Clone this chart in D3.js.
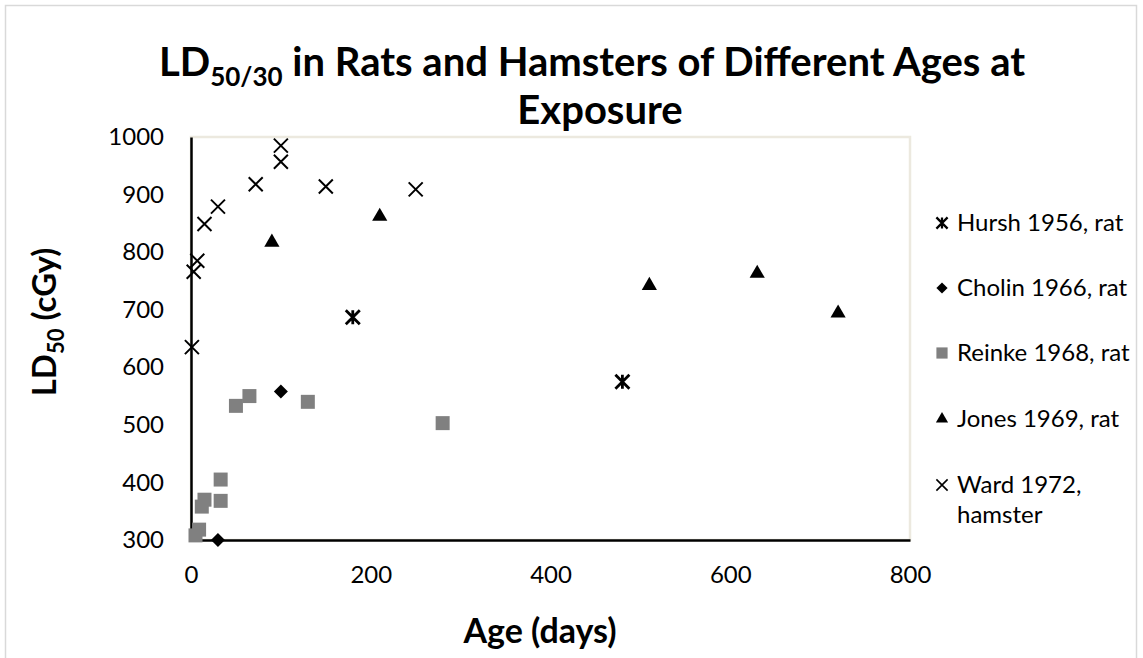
<!DOCTYPE html>
<html><head><meta charset="utf-8">
<script src="https://cdn.jsdelivr.net/npm/d3@7"></script>
<style>html,body{margin:0;padding:0;background:#fff;}svg{display:block;font-family:Lato,"Open Sans",sans-serif;}</style>
</head><body><svg id="c" width="1143" height="658"></svg>
<script>
// ---- data (age in days, LD50 in cGy) ----
const hurshAge = [180, 480];
const hurshLD = [687, 575];
const cholinAge = [100, 30];
const cholinLD = [558, 300];
const reinkeAge = [5, 9, 12, 15, 33, 33, 50, 65, 130, 280];
const reinkeLD = [308, 318, 358, 370, 368, 405, 533, 550, 540, 503];
const jonesAge = [90, 210, 510, 630, 720];
const jonesLD = [817, 862, 742, 763, 694];
const wardAge = [100, 100, 72, 150, 250, 30, 15, 7, 3, 1];
const wardLD = [985, 957, 918, 914, 909, 879, 849, 785, 766, 635];
const xTicks = [0, 200, 400, 600, 800];
const yTicks = [300, 400, 500, 600, 700, 800, 900, 1000];
const seriesNames = ["Hursh 1956, rat", "Cholin 1966, rat", "Reinke 1968, rat", "Jones 1969, rat", "Ward 1972,|hamster"];

const svg = d3.select("#c");
const x = d3.scaleLinear().domain([0, 800]).range([191, 910]);
const y = d3.scaleLinear().domain([300, 1000]).range([540, 137]);

// outer chart border
svg.append("rect").attr("x", 5.5).attr("y", 5.5).attr("width", 1131).attr("height", 660)
  .attr("fill", "#fff").attr("stroke", "#d9d9d9").attr("stroke-width", 1.5);

// plot area border (light)
svg.append("rect").attr("x", x(0)).attr("y", y(1000)).attr("width", x(800) - x(0)).attr("height", y(300) - y(1000))
  .attr("fill", "none").attr("stroke", "#ece9df").attr("stroke-width", 2.5);

// axes
const fmt = d3.format("d");
const xAxis = d3.axisBottom(x).tickValues(xTicks).tickFormat(fmt).tickSize(0).tickPadding(26);
const yAxis = d3.axisLeft(y).tickValues(yTicks).tickFormat(fmt).tickSize(0).tickPadding(27);
const gx = svg.append("g").attr("transform", `translate(0,${y(300)})`).call(xAxis);
const gy = svg.append("g").attr("transform", `translate(${x(0)},0)`).call(yAxis);
[gx, gy].forEach(g => {
  g.select(".domain").attr("stroke", "#000").attr("stroke-width", 2.5);
  g.selectAll("text").attr("font-family", "Lato").attr("font-size", 24).attr("fill", "#000");
});

// marker shapes
const S = 7;
const shapes = {
  asterisk: `M${-S},${-S}L${S},${S}M${-S},${S}L${S},${-S}M0,${-S}L0,${S}`,
  diamond: `M0,${-S}L${S},0L0,${S}L${-S},0Z`,
  square: d3.symbol(d3.symbolSquare, 196)(),
  triangle: d3.symbol(d3.symbolTriangle, 100)(),
  cross: `M${-S},${-S}L${S},${S}M${-S},${S}L${S},${-S}`
};
function drawMarker(g, kind) {
  const p = g.append("path").attr("d", shapes[kind]);
  if (kind === "asterisk") p.attr("fill", "none").attr("stroke", "#000").attr("stroke-width", 2.8);
  else if (kind === "cross") p.attr("fill", "none").attr("stroke", "#000").attr("stroke-width", 2);
  else if (kind === "square") p.attr("fill", "#808080");
  else p.attr("fill", "#000");
  return p;
}
const series = [
  {ages: hurshAge, lds: hurshLD, kind: "asterisk"},
  {ages: cholinAge, lds: cholinLD, kind: "diamond"},
  {ages: reinkeAge, lds: reinkeLD, kind: "square"},
  {ages: jonesAge, lds: jonesLD, kind: "triangle"},
  {ages: wardAge, lds: wardLD, kind: "cross"}
];
const pts = svg.append("g");
series.forEach(s => {
  s.ages.forEach((a, i) => {
    const g = pts.append("g").attr("transform", `translate(${x(a)},${y(s.lds[i])})`);
    drawMarker(g, s.kind);
  });
});

// legend
const legY = [223, 288, 353, 419, 485];
series.forEach((s, i) => {
  const g = svg.append("g").attr("transform", `translate(942,${legY[i]})`);
  const m = drawMarker(g, s.kind);
  m.attr("transform", "scale(0.8)");
  const lines = seriesNames[i].split("|");
  lines.forEach((t, j) => {
    g.append("text").attr("x", 15).attr("y", j * 30).attr("dy", "0.35em")
      .attr("font-size", 24).attr("fill", "#000").text(t);
  });
});

// title
const title = svg.append("g").attr("font-weight", "bold").attr("font-size", 40).attr("fill", "#000");
const t1 = title.append("text").attr("x", 592).attr("y", 76).attr("text-anchor", "middle");
t1.append("tspan").text("LD");
t1.append("tspan").attr("font-size", 26).attr("dy", 10).text("50/30");
t1.append("tspan").attr("dy", -10).text(" in Rats and Hamsters of Different Ages at");
title.append("text").attr("x", 600).attr("y", 124).attr("text-anchor", "middle").text("Exposure");

// axis titles
svg.append("text").attr("x", 540).attr("y", 643).attr("text-anchor", "middle")
  .attr("font-weight", "bold").attr("font-size", 34).attr("fill", "#000").text("Age (days)");
const yt = svg.append("text").attr("transform", `translate(56,322) rotate(-90)`)
  .attr("text-anchor", "middle").attr("font-weight", "bold").attr("font-size", 33).attr("fill", "#000");
yt.append("tspan").text("LD");
yt.append("tspan").attr("font-size", 22).attr("dy", 8).text("50");
yt.append("tspan").attr("dy", -8).text(" (cGy)");
</script></body></html>
